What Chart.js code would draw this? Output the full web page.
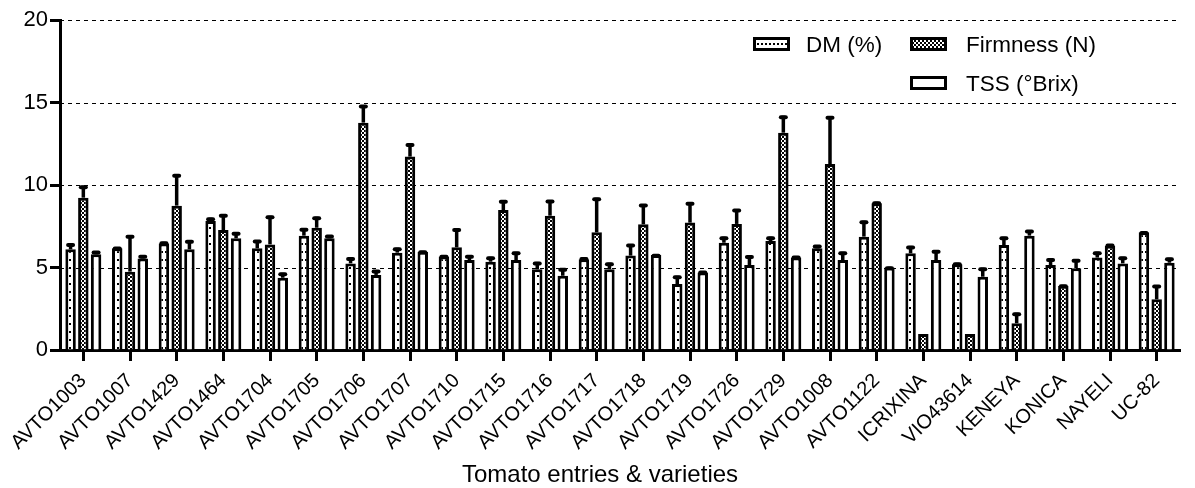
<!DOCTYPE html>
<html>
<head>
<meta charset="utf-8">
<script src="https://cdn.jsdelivr.net/npm/chart.js"></script>
<style>
  body { margin: 0; background: #fff; }
  #wrap { width: 1195px; height: 488px; }
</style>
</head>
<body>
<div id="wrap"><canvas id="qualityChart" width="1195" height="488"></canvas></div>
<script>
const entries = ["AVTO1003", "AVTO1007", "AVTO1429", "AVTO1464", "AVTO1704", "AVTO1705", "AVTO1706", "AVTO1707",
    "AVTO1710", "AVTO1715", "AVTO1716", "AVTO1717", "AVTO1718", "AVTO1719", "AVTO1726", "AVTO1729",
    "AVTO1008", "AVTO1122", "ICRIXINA", "VIO43614", "KENEYA", "KONICA", "NAYELI", "UC-82"];

const dmValues = [6.1, 6.16, 6.46, 7.82, 6.16, 6.93, 5.25, 5.9, 5.66, 5.35, 4.89, 5.5,
    5.72, 4.0, 6.5, 6.6, 6.16, 6.87, 5.86, 5.19, 6.36, 5.15, 5.6, 7.13];
const dmErrors = [0.35, 0.08, 0.1, 0.2, 0.5, 0.45, 0.35, 0.3, 0.08, 0.3, 0.45, 0.1,
    0.7, 0.5, 0.37, 0.27, 0.2, 0.97, 0.45, 0.1, 0.5, 0.4, 0.36, 0.05];

const firmnessValues = [9.23, 4.75, 8.75, 7.27, 6.4, 7.41, 13.78, 11.72, 6.22, 8.48, 8.14, 7.13,
    7.62, 7.72, 7.64, 13.17, 11.27, 8.89, 0.97, 0.97, 1.62, 3.9, 6.32, 3.07];
const firmnessErrors = [0.73, 2.2, 1.9, 0.95, 1.74, 0.67, 1.07, 0.8, 1.15, 0.6, 0.95, 2.1,
    1.23, 1.23, 0.9, 1.03, 2.9, 0.1, 0, 0, 0.64, 0.05, 0.1, 0.87];

const tssValues = [5.8, 5.55, 6.1, 6.77, 4.38, 6.77, 4.55, 5.96, 5.45, 5.45, 4.5, 4.89,
    5.76, 4.69, 5.15, 5.6, 5.45, 5.0, 5.45, 4.44, 6.93, 4.95, 5.25, 5.29];
const tssErrors = [0.2, 0.2, 0.55, 0.36, 0.3, 0.2, 0.3, 0.05, 0.3, 0.5, 0.45, 0.4,
    0.05, 0.1, 0.57, 0.1, 0.5, 0.05, 0.6, 0.55, 0.34, 0.55, 0.4, 0.3];

const yTicks = [0, 5, 10, 15, 20];
const xTitle = "Tomato entries & varieties";

// small fill patterns like the GraphPad ones
function makePattern(w, h, bg, fg, cells) {
    const c = document.createElement("canvas");
    c.width = w;
    c.height = h;
    const g = c.getContext("2d");
    g.fillStyle = bg;
    g.fillRect(0, 0, w, h);
    g.fillStyle = fg;
    cells.forEach(function (r) {
        g.fillRect(r[0], r[1], r[2], r[3]);
    });
    return g.createPattern(c, "repeat");
}

const dotFill = makePattern(4, 8, "#fff", "#000", [[1, 3, 2, 2]]);
const checkFill = makePattern(4, 4, "#000", "#fff", [[0, 0, 2, 2], [2, 2, 2, 2]]);

const gridLines = {
    id: "gridLines",
    beforeDatasetsDraw(chart) {
        const ctx = chart.ctx;
        const area = chart.chartArea;
        const y = chart.scales.y;
        ctx.save();
        ctx.strokeStyle = "#000";
        ctx.lineWidth = 1;
        ctx.setLineDash([4, 4]);
        yTicks.forEach(function (v) {
            if (v === 0) return;
            const py = Math.round(y.getPixelForValue(v)) + 0.5;
            ctx.beginPath();
            ctx.moveTo(area.left, py);
            ctx.lineTo(area.right, py);
            ctx.stroke();
        });
        ctx.restore();
    },
};

const errorBars = {
    id: "errorBars",
    afterDatasetsDraw(chart) {
        const ctx = chart.ctx;
        const y = chart.scales.y;
        ctx.save();
        ctx.strokeStyle = "#000";
        chart.data.datasets.forEach(function (ds, i) {
            const meta = chart.getDatasetMeta(i);
            meta.data.forEach(function (bar, j) {
                const top = y.getPixelForValue(ds.data[j] + ds.errors[j]);
                ctx.lineWidth = 3.5;
                ctx.lineCap = "butt";
                ctx.beginPath();
                ctx.moveTo(bar.x, bar.y);
                ctx.lineTo(bar.x, top);
                ctx.stroke();
                if (ds.errors[j] > 0) {
                    ctx.lineWidth = 4;
                    ctx.lineCap = "round";
                    ctx.beginPath();
                    ctx.moveTo(bar.x - 2.5, top + 1.5);
                    ctx.lineTo(bar.x + 2.5, top + 1.5);
                    ctx.stroke();
                }
            });
        });
        ctx.restore();
    },
};

const legendBox = {
    id: "legendBox",
    afterDraw(chart) {
        const ctx = chart.ctx;
        const ds = chart.data.datasets;
        const spots = [
            { x: 753, y: 37, tx: 806, ty: 52 },
            { x: 910, y: 37, tx: 966, ty: 52 },
            { x: 910, y: 76, tx: 966, ty: 91 },
        ];
        ctx.save();
        ds.forEach(function (d, i) {
            const s = spots[i];
            ctx.fillStyle = "#000";
            ctx.fillRect(s.x, s.y, 37, 14);
            ctx.fillStyle = d.backgroundColor;
            ctx.fillRect(s.x + 3, s.y + 3, 31, 8);
            ctx.fillStyle = "#000";
            ctx.font = "22.5px Arial, 'Liberation Sans'";
            ctx.textBaseline = "alphabetic";
            ctx.fillText(d.label, s.tx, s.ty);
        });
        // x axis title
        ctx.font = "24px Arial, 'Liberation Sans'";
        ctx.textAlign = "center";
        ctx.fillText(xTitle, 600, 482);
        ctx.restore();
    },
};

function drawChart() {
    const ctx = document.getElementById("qualityChart").getContext("2d");

    new Chart(ctx, {
        type: "bar",
        data: {
            labels: entries,
            datasets: [
                { label: "DM (%)", data: dmValues, errors: dmErrors, backgroundColor: dotFill },
                { label: "Firmness (N)", data: firmnessValues, errors: firmnessErrors, backgroundColor: checkFill },
                { label: "TSS (°Brix)", data: tssValues, errors: tssErrors, backgroundColor: "#fff" },
            ],
        },
        options: {
            responsive: false,
            animation: false,
            layout: { padding: { top: 20, right: 15, left: 0, bottom: 0 } },
            datasets: {
                bar: {
                    categoryPercentage: 0.82,
                    barPercentage: 0.82,
                    borderColor: "#000",
                    borderWidth: 3,
                },
            },
            plugins: {
                legend: { display: false },
                tooltip: { enabled: false },
            },
            scales: {
                x: {
                    grid: {
                        display: true,
                        offset: false,
                        drawOnChartArea: false,
                        drawTicks: true,
                        tickLength: 11,
                        tickWidth: 3,
                        tickColor: "#000",
                    },
                    border: { color: "#000", width: 3 },
                    ticks: {
                        color: "#000",
                        font: { family: "Arial, 'Liberation Sans'", size: 20 },
                        minRotation: 45,
                        maxRotation: 45,
                        autoSkip: false,
                        padding: 8,
                    },
                    afterFit: function (scale) {
                        scale.height = 138;
                    },
                },
                y: {
                    min: 0,
                    max: 20,
                    afterBuildTicks: function (scale) {
                        scale.ticks = yTicks.map(function (v) {
                            return { value: v };
                        });
                    },
                    grid: {
                        display: true,
                        drawOnChartArea: false,
                        drawTicks: true,
                        tickLength: 10,
                        tickWidth: 3,
                        tickColor: "#000",
                    },
                    border: { color: "#000", width: 3 },
                    ticks: {
                        color: "#000",
                        font: { family: "Arial, 'Liberation Sans'", size: 22 },
                        padding: 2,
                    },
                    afterFit: function (scale) {
                        scale.width = 60;
                    },
                },
            },
        },
        plugins: [gridLines, errorBars, legendBox],
    });
}

drawChart();
</script>
</body>
</html>
